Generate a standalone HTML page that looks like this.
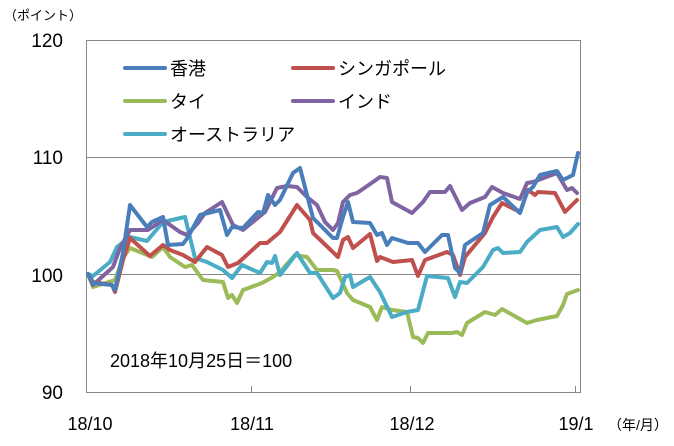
<!DOCTYPE html>
<html><head><meta charset="utf-8"><style>
body{margin:0;background:#fff;}
svg text{font-family:"Liberation Sans","Noto Sans CJK JP",sans-serif;fill:#000;}
</style></head><body>
<svg width="674" height="441" viewBox="0 0 674 441" xmlns="http://www.w3.org/2000/svg">
<rect x="86.5" y="40.5" width="494" height="352" fill="none" stroke="#888" stroke-width="1"/>
<line x1="86" y1="157.5" x2="580" y2="157.5" stroke="#888"/>
<line x1="86" y1="274.5" x2="580" y2="274.5" stroke="#888"/>
<line x1="251.5" y1="386" x2="251.5" y2="392" stroke="#888"/>
<line x1="410.5" y1="386" x2="410.5" y2="392" stroke="#888"/>
<line x1="575.5" y1="386" x2="575.5" y2="392" stroke="#888"/>
<text x="4" y="20" font-size="13">（ポイント）</text>
<g font-size="19" text-anchor="end">
<text x="63" y="47">120</text><text x="63" y="164">110</text><text x="63" y="282">100</text><text x="63" y="399">90</text>
</g>
<g font-size="18" text-anchor="middle">
<text x="90" y="430">18/10</text><text x="252" y="430">18/11</text><text x="412" y="430">18/12</text><text x="576" y="430">19/1</text>
</g>
<text x="608" y="430" font-size="14">（年/月）</text>
<text x="110" y="367" font-size="18">2018年10月25日＝100</text>
<g fill="none" stroke-width="4" stroke-linejoin="round" stroke-linecap="round">
<polyline stroke="#9bbb59" points="88,274 93,287 115,280 123,258 130,248 152,257 163,247 170,257 185,267 192,265 203,280 223,282 228,298 232,295 237,303 243,290 262,283 273,277 280,272 295,255 307,257 317,270 333,270 337,271 347,293 353,300 370,307 377,320 382,307 392,310 407,312 413,337 418,338 423,343 428,333 452,333 457,332 462,335 467,323 485,312 495,315 502,309 527,323 537,320 557,316 563,305 567,294 578,290"/>
<polyline stroke="#4bacc6" points="88,274 93,276 110,262 117,247 130,237 147,241 163,222 185,217 195,258 207,262 223,270 232,278 242,265 260,273 267,262 272,263 275,256 280,275 297,253 310,273 317,273 333,298 340,293 345,277 350,275 353,287 370,277 380,292 392,317 407,312 418,310 427,276 448,278 455,297 460,282 467,283 483,267 493,250 498,248 503,253 520,252 527,242 540,230 557,227 563,237 570,233 578,224"/>
<polyline stroke="#8064a2" points="88,274 93,285 113,267 120,248 130,230 148,230 163,220 180,232 187,235 198,223 205,213 222,202 233,225 243,230 265,212 277,188 287,186 297,187 307,197 317,205 325,222 333,230 338,223 343,202 350,195 357,193 373,182 380,177 387,178 392,202 412,213 423,202 430,192 445,192 450,186 462,210 470,203 485,197 492,187 503,193 520,199 527,183 533,182 557,173 567,190 572,188 577,193"/>
<polyline stroke="#c0504d" points="88,274 93,282 112,285 115,292 123,260 130,238 150,256 157,250 163,245 170,250 183,255 195,262 207,247 222,255 228,267 238,263 260,243 267,243 280,232 297,205 310,220 313,233 338,257 343,240 348,237 353,248 370,234 377,261 380,257 393,262 412,260 418,276 425,260 447,252 453,255 460,275 465,257 485,233 493,217 502,203 520,212 528,190 535,195 538,192 555,193 565,212 577,200"/>
<polyline stroke="#4a7ebb" points="88,274 93,283 112,285 115,290 123,253 130,205 147,227 152,222 163,217 168,245 183,244 188,237 200,215 220,210 227,235 232,227 243,228 258,212 263,213 268,195 275,205 280,200 293,173 300,168 313,218 333,238 337,238 343,217 348,202 353,222 370,223 377,235 382,233 387,245 392,238 408,243 418,243 425,252 442,235 448,235 455,268 460,273 465,245 483,233 490,205 503,197 520,213 527,192 533,187 540,175 557,171 563,180 573,175 578,153"/>
<line x1="125" y1="68" x2="165" y2="68" stroke="#4a7ebb"/>
<line x1="293" y1="68" x2="333" y2="68" stroke="#c0504d"/>
<line x1="125" y1="101" x2="165" y2="101" stroke="#9bbb59"/>
<line x1="293" y1="101" x2="333" y2="101" stroke="#8064a2"/>
<line x1="125" y1="134" x2="165" y2="134" stroke="#4bacc6"/>
</g>
<g font-size="18">
<text x="170" y="75">香港</text><text x="338" y="75">シンガポール</text>
<text x="170" y="108">タイ</text><text x="338" y="108">インド</text>
<text x="170" y="141">オーストラリア</text>
</g>
</svg>
</body></html>
